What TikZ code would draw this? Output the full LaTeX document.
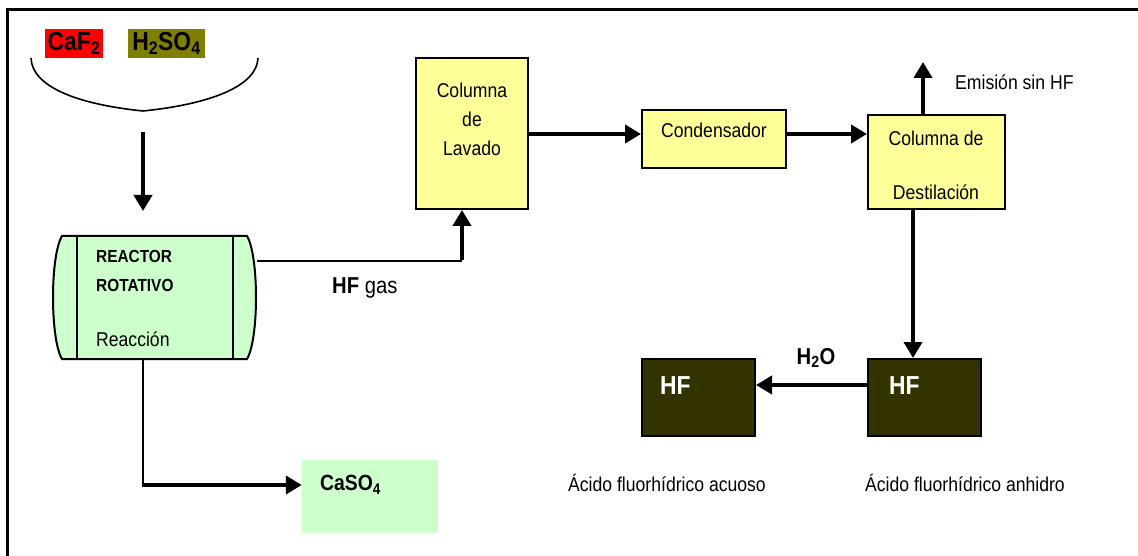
\documentclass[tikz,border=0pt]{standalone}
\usepackage{fontspec}
\setmainfont{Liberation Sans}[FakeStretch=0.88]
\usetikzlibrary{arrows.meta}
\definecolor{feedred}{HTML}{FF0000}
\definecolor{feedolive}{HTML}{808000}
\definecolor{unityellow}{HTML}{FFFF99}
\definecolor{solidgreen}{HTML}{CCFFCC}
\definecolor{productdark}{HTML}{333300}
\newcommand\fs[1]{\fontsize{#1}{#1}\selectfont}
\tikzset{
  lbl/.style={font=\fs{20}, inner sep=0pt},
  unitbox/.style={draw=black, line width=2pt, fill=unityellow, inner sep=0pt},
  prodbox/.style={draw=black, line width=2pt, fill=productdark, inner sep=0pt},
  feedtag/.style={font=\fs{26}\bfseries, inner sep=0pt, minimum height=29pt},
  flow/.style={line width=4.5pt, -{Triangle[length=16pt,width=18pt]}},
  thinflow/.style={line width=2pt},
}
\begin{document}
\begin{tikzpicture}[x=1pt,y=-1pt]
\useasboundingbox (0,0) rectangle (1138,556);
% page frame (top and left edges)
\draw[line width=3pt] (7,556) -- (7,10) -- (1138,10);

% raw materials
\node[feedtag, fill=feedred, minimum width=58pt] (caf) at (74,43.5) {CaF\textsubscript{2}};
\node[feedtag, fill=feedolive, minimum width=77pt] (hso) at (166.5,43.5) {H\textsubscript{2}SO\textsubscript{4}};
\draw[line width=1.6pt] (31,58) .. controls (32,86) and (75,104) .. (143,111)
                              .. controls (211,104) and (257,86) .. (258,58);
\coordinate (feedtop) at (143,132);
\coordinate (feedbot) at (143,211);
\draw[flow] (feedtop) -- (feedbot);

% rotary reactor
\node[minimum width=205pt, minimum height=123pt, inner sep=0pt] (reactor) at (154.5,297.5) {};
\draw[line width=2pt, fill=solidgreen]
  (62,236) -- (247,236) .. controls (259,256) and (259,339) .. (247,359)
  -- (62,359) .. controls (50,339) and (50,256) .. (62,236) -- cycle;
\draw[line width=2pt] (77,236) -- (77,359) (233,236) -- (233,359);
\node[lbl, font=\fs{17.5}\bfseries, anchor=west] (rt1) at (96,256) {REACTOR};
\node[lbl, font=\fs{17.5}\bfseries, anchor=west] (rt2) at (96,285) {ROTATIVO};
\node[lbl, anchor=west] (rt3) at (96,339) {Reacción};

% washing column
\node[unitbox, minimum width=112pt, minimum height=151pt] (lav) at (472,133.5) {};
\node[lbl] (lav1) at (472,90) {Columna};
\node[lbl] (lav2) at (472,119) {de};
\node[lbl] (lav3) at (472,148) {Lavado};

% condenser
\node[unitbox, minimum width=144pt, minimum height=58pt] (cond) at (714,139) {};
\node[lbl] (cond1) at (714,130) {Condensador};

% distillation column
\node[unitbox, minimum width=137pt, minimum height=94pt] (dest) at (936.5,162) {};
\node[lbl] (dest1) at (936,138) {Columna de};
\node[lbl] (dest2) at (936,192) {Destilación};

% products
\node[prodbox, minimum width=113pt, minimum height=77pt] (hfl) at (698.5,397.5) {};
\node[prodbox, minimum width=113pt, minimum height=77pt] (hfr) at (924.5,397.5) {};
\node[lbl, font=\fs{26}\bfseries, text=white, anchor=west] (hfl1) at (660,386) {HF};
\node[lbl, font=\fs{26}\bfseries, text=white, anchor=west] (hfr1) at (889,386) {HF};
\node[fill=solidgreen, minimum width=136pt, minimum height=73pt, inner sep=0pt] (caso) at (370,496.5) {};
\node[lbl, font=\fs{22}\bfseries, anchor=west] (caso1) at (320,485) {CaSO\textsubscript{4}};

% stream labels
\node[lbl, font=\fs{23}, anchor=west] (hfgas) at (332,288) {\textbf{HF} gas};
\node[lbl, anchor=west] (emis1) at (955,82) {Emisión sin HF};
\node[lbl, font=\fs{23}\bfseries] (water) at (816,358) {H\textsubscript{2}O};
\node[lbl, anchor=west] (aq) at (568,483) {Ácido fluorhídrico acuoso};
\node[lbl, anchor=west] (anh) at (865,483) {Ácido fluorhídrico anhidro};

% connectors
\coordinate (hfbend) at (462,261);
\draw[thinflow] (reactor.east |- hfbend) -- (hfbend);
\draw[flow] ([yshift=1pt]hfbend) -- (hfbend |- lav.south);

\coordinate (casbend) at (143,485);
\draw[thinflow] (casbend |- reactor.south) -- (casbend);
\draw[flow] ([xshift=-1pt]casbend) -- (casbend -| caso.west);

\coordinate (row) at (0,134);
\draw[flow] (lav.east |- row) -- (cond.west |- row);
\draw[flow] (cond.east |- row) -- (dest.west |- row);

\coordinate (emis) at (923,62);
\draw[flow] (emis |- dest.north) -- (emis);

\coordinate (drop) at (913,0);
\draw[flow] (drop |- dest.south) -- (drop |- hfr.north);

\coordinate (hrow) at (0,385);
\draw[flow] (hfr.west |- hrow) -- (hfl.east |- hrow);
\end{tikzpicture}
\end{document}
